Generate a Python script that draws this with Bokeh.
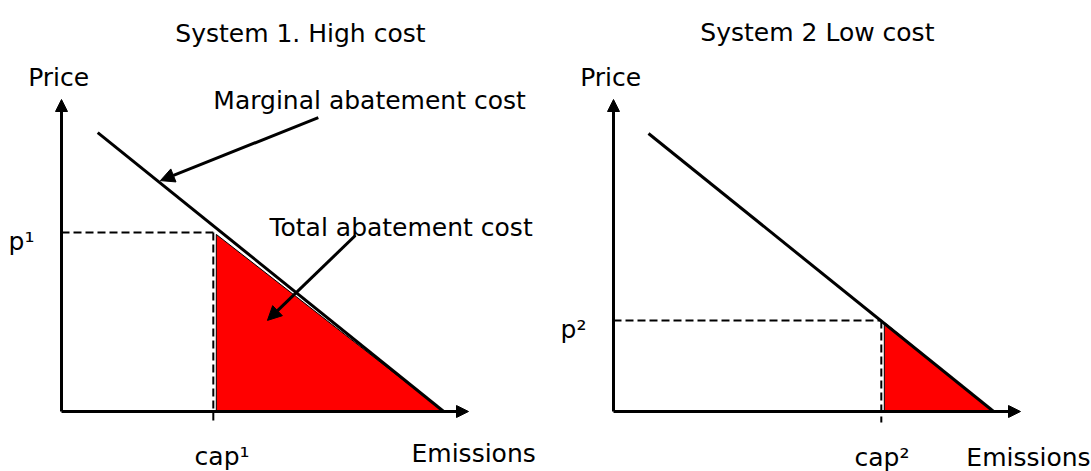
from bokeh.plotting import figure
from bokeh.layouts import row
from bokeh.models import Range1d, Arrow, NormalHead
from bokeh.core.properties import value
from bokeh.embed import file_html
from bokeh.resources import INLINE

# ---------------- data (schematic units: both axes run 0..100) ----------------
panel_titles = ["System 1. High cost", "System 2 Low cost"]
axis_max = [100, 100]                      # emissions axis, price axis
mac1_x = [8.9, 93.9]                       # marginal abatement cost, system 1
mac1_y = [89.4, 0.0]
mac2_x = [8.6, 93.4]                       # marginal abatement cost, system 2
mac2_y = [89.1, 0.0]
caps = [37.3, 65.8]                        # cap1, cap2 (emissions)
prices = [57.4, 29.2]                      # p1, p2 (price)
cap_labels = ["cap\u00b9", "cap\u00b2"]
price_labels = ["p\u00b9", "p\u00b2"]
x_label = "Emissions"
y_label = "Price"
note_mac = "Marginal abatement cost"
note_total = "Total abatement cost"

# ---------------- layout / style ----------------
SX, SY = 4.07, 3.12          # px per data unit
FONT = value("DejaVu Sans")
FS = "25px"
H = 471
OY = 411                     # page px of the price = 0 line


def make_panel(width, left_px, origin_px, mac_x, mac_y, cap, price):
    x0 = (left_px - origin_px) / SX
    p = figure(width=width, height=H, output_backend="svg", toolbar_location=None,
               x_range=Range1d(x0, x0 + width / SX),
               y_range=Range1d((OY - H) / SY, OY / SY),
               x_axis_location=None, y_axis_location=None, min_border=0,
               outline_line_color=None, background_fill_color="white",
               border_fill_color="white")
    p.grid.visible = False

    # red "total abatement cost" triangle under the MAC curve right of the cap
    x_int = mac_x[1]
    off = 3 / SX
    p.patch([cap + off, cap + off, x_int], [price - 2 / SY, 0, 0],
            fill_color="#ff0000", line_color="black", line_width=1)

    # axes with arrow heads
    p.add_layout(Arrow(end=NormalHead(size=12, fill_color="black", line_color="black"),
                       x_start=0, y_start=0, x_end=axis_max[0], y_end=0,
                       line_width=3, line_color="black"))
    p.add_layout(Arrow(end=NormalHead(size=12, fill_color="black", line_color="black"),
                       x_start=0, y_start=0, x_end=0, y_end=axis_max[1],
                       line_width=3, line_color="black"))

    # marginal abatement cost line
    p.line(mac_x, mac_y, line_color="black", line_width=3)

    # dashed guides
    p.line([0, cap], [price, price], line_color="black", line_width=2, line_dash="8 4")
    p.line([cap, cap], [price, -11 / SY], line_color="black", line_width=2, line_dash="8 4")
    return p


def txt(p, x, y, s, align="left"):
    p.text([x], [y], text=[s], text_font=FONT, text_font_size=FS, text_color="black",
           text_align=align, text_baseline="alphabetic")


# left panel: origin at page px (61, 411); figure spans page px 0..560
p1 = make_panel(560, 0, 61, mac1_x, mac1_y, caps[0], prices[0])
# right panel: origin at page px (613, 411); figure spans page px 560..1091
p2 = make_panel(531, 560, 613, mac2_x, mac2_y, caps[1], prices[1])

# texts, left
txt(p1, 58.7, 121.2, panel_titles[0], "center")
txt(p1, -0.7, 107.0, y_label, "center")
txt(p1, 37.3, 99.7, note_mac)
txt(p1, 51.1, 59.0, note_total)
txt(p1, -13.0, 54.5, price_labels[0])
txt(p1, 86.0, -13.5, x_label)
txt(p1, 32.7, -14.4, cap_labels[0])

# annotation arrows, left
p1.add_layout(Arrow(end=NormalHead(size=14, fill_color="black", line_color="black"),
                    x_start=63.1, y_start=94.2, x_end=24.3, y_end=74.0,
                    line_width=3, line_color="black"))
p1.add_layout(Arrow(end=NormalHead(size=14, fill_color="black", line_color="black"),
                    x_start=72.2, y_start=56.4, x_end=50.6, y_end=29.2,
                    line_width=3, line_color="black"))

# texts, right
txt(p2, 50.1, 121.5, panel_titles[1], "center")
txt(p2, -0.7, 107.0, y_label, "center")
txt(p2, -13.0, 26.3, price_labels[1])
txt(p2, 59.2, -14.7, cap_labels[1])
txt(p2, 86.7, -14.7, x_label)

layout = row(p1, p2)
open("out.html", "w").write(file_html(layout, INLINE))
